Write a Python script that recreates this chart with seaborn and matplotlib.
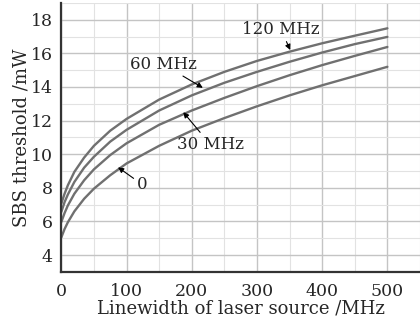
import matplotlib
matplotlib.use("Agg")
import matplotlib.pyplot as plt
import seaborn as sns
import pandas as pd
from matplotlib.ticker import MultipleLocator

# linewidth of laser source (MHz) and SBS threshold (mW), one list per Brillouin linewidth
linewidth = [0, 5, 10, 20, 35, 50, 75, 100, 150, 200, 250, 300, 350, 400, 450, 500]
thr_0 = [5.05, 5.55, 5.95, 6.6, 7.35, 7.95, 8.75, 9.45, 10.5, 11.4, 12.15, 12.85, 13.5, 14.1, 14.65, 15.2]
thr_30 = [5.97, 6.5, 6.95, 7.65, 8.45, 9.1, 9.95, 10.65, 11.75, 12.6, 13.35, 14.05, 14.7, 15.3, 15.85, 16.38]
thr_60 = [6.57, 7.15, 7.6, 8.35, 9.2, 9.85, 10.75, 11.45, 12.6, 13.5, 14.25, 14.9, 15.5, 16.05, 16.55, 16.98]
thr_120 = [7.07, 7.65, 8.15, 8.95, 9.8, 10.5, 11.4, 12.1, 13.25, 14.15, 14.9, 15.55, 16.1, 16.6, 17.05, 17.49]
series = {"0": thr_0, "30 MHz": thr_30, "60 MHz": thr_60, "120 MHz": thr_120}

rows = []
for name, vals in series.items():
    for x, y in zip(linewidth, vals):
        rows.append({"lw": x, "thr": y, "curve": name})
df = pd.DataFrame(rows)

sns.set_style("white")
plt.rcParams["font.family"] = ["DejaVu Serif"]
plt.rcParams["mathtext.fontset"] = "dejavuserif"

fig = plt.figure(figsize=(4.2, 3.26), dpi=100)
ax = fig.add_axes([0.146, 0.166, 0.854, 0.825])

sns.lineplot(data=df, x="lw", y="thr", hue="curve", palette=["#707070"] * 4,
             linewidth=1.7, legend=False, ax=ax)

ax.set_xlim(0, 550)
ax.set_ylim(3, 19)
ax.xaxis.set_minor_locator(MultipleLocator(50))
ax.yaxis.set_minor_locator(MultipleLocator(1))
ax.set_xticks([0, 100, 200, 300, 400, 500])
ax.set_yticks([4, 6, 8, 10, 12, 14, 16, 18])
ax.grid(which="major", color="#c4c4c4", linewidth=1.0)
ax.grid(which="minor", color="#e2e2e2", linewidth=0.8)
ax.set_axisbelow(True)

for s in ["top", "right"]:
    ax.spines[s].set_visible(False)
for s in ["left", "bottom"]:
    ax.spines[s].set_color("#333333")
    ax.spines[s].set_linewidth(1.6)
ax.tick_params(which="both", direction="in", color="#333333", width=1.2)
ax.tick_params(which="major", length=4, labelsize=12.5, pad=6)
ax.tick_params(axis="x", which="major", pad=8)
ax.tick_params(which="minor", length=2.5)

ax.set_xlabel("Linewidth of laser source /MHz", fontsize=13, labelpad=0)
ax.set_ylabel("SBS threshold /mW", fontsize=13, labelpad=0)

arrow = dict(arrowstyle="-|>", color="black", lw=0.8, mutation_scale=8, shrinkA=0, shrinkB=0)
ax.annotate("120 MHz", xy=(351, 16.2), xytext=(337, 17.4), ha="center", va="center",
            fontsize=12, arrowprops=arrow)
ax.annotate("60 MHz", xy=(217, 13.95), xytext=(156, 15.35), ha="center", va="center",
            fontsize=12, arrowprops=arrow)
ax.annotate("30 MHz", xy=(187, 12.5), xytext=(228, 10.6), ha="center", va="center",
            fontsize=12, arrowprops=arrow)
ax.annotate("0", xy=(87, 9.22), xytext=(124, 8.2), ha="center", va="center",
            fontsize=12, arrowprops=arrow)

fig.savefig("out.png", dpi=100)
